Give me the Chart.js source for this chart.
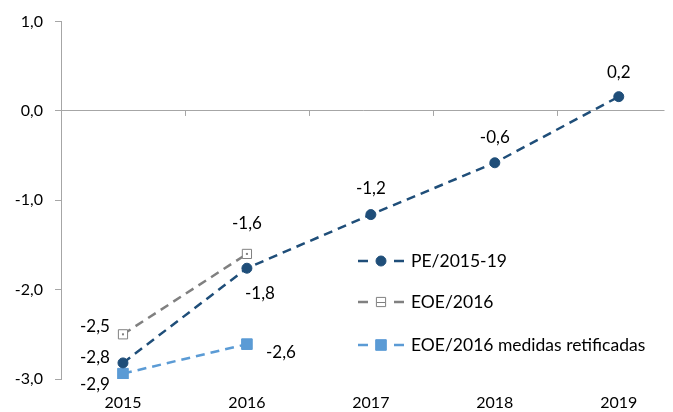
<!DOCTYPE html>
<html lang="pt">
<head>
<meta charset="UTF-8">
<script src="https://cdn.jsdelivr.net/npm/chart.js"></script>
<title>PE vs EOE</title>
<style>
  html, body { margin: 0; padding: 0; background: #fff; }
  #wrap { width: 673px; height: 412px; }
</style>
</head>
<body>
<div id="wrap"><canvas id="myChart" width="673" height="412"></canvas></div>
<script>
  const years = [2015, 2016, 2017, 2018, 2019];
  const pe = [-2.82, -1.76, -1.16, -0.58, 0.16];
  const eoe = [-2.5, -1.6];
  const eoeRet = [-2.94, -2.61];
  const peLabels = ['-2,8', '-1,8', '-1,2', '-0,6', '0,2'];
  const eoeLabels = ['-2,5', '-1,6'];
  const eoeRetLabels = ['-2,9', '-2,6'];
  const yTicks = [1, 0, -1, -2, -3];

  const FONT = 'Lato, "Open Sans", sans-serif';
  const toPts = (vals) => vals.map((v, i) => ({ x: years[i], y: v }));

  // label offsets (px) relative to each point
  const labelOffsets = [
    [[-28, -5], [13, 25], [0, -26], [0, -25], [0, -24]],
    [[-28, -8], [0, -30]],
    [[-28, 11], [34, 8]]
  ];
  const labelTexts = [peLabels, eoeLabels, eoeRetLabels];

  const dataLabels = {
    id: 'dataLabels',
    afterDatasetsDraw(chart) {
      const c = chart.ctx;
      c.save();
      // little dot inside the open squares
      const m = chart.getDatasetMeta(1);
      c.fillStyle = '#808080';
      m.data.forEach(pt => { c.fillRect(pt.x - 1, pt.y - 1, 2, 2); });

      c.font = '17px ' + FONT;
      c.fillStyle = '#000';
      c.textAlign = 'center';
      c.textBaseline = 'middle';
      chart.data.datasets.forEach((ds, di) => {
        chart.getDatasetMeta(di).data.forEach((pt, i) => {
          const off = labelOffsets[di][i];
          c.fillText(labelTexts[di][i], pt.x + off[0], pt.y + off[1]);
        });
      });
      c.restore();
    }
  };

  // small tick marks hanging below the zero line, between categories
  const zeroTicks = {
    id: 'zeroTicks',
    beforeDatasetsDraw(chart) {
      const xs = chart.scales.x, ys = chart.scales.y;
      const y0 = ys.getPixelForValue(0);
      const c = chart.ctx;
      c.save();
      c.strokeStyle = '#a6a6a6';
      c.lineWidth = 1;
      for (let k = 1; k <= years.length; k++) {
        const x = Math.round(xs.getPixelForValue(2014.5 + k)) + 0.5;
        if (x > chart.chartArea.right) break;
        c.beginPath();
        c.moveTo(x, y0);
        c.lineTo(x, y0 + 5);
        c.stroke();
      }
      c.restore();
    }
  };

  const legendRows = [261, 302, 345];
  const insideLegend = {
    id: 'insideLegend',
    afterDraw(chart) {
      const c = chart.ctx;
      c.save();
      chart.data.datasets.forEach((ds, i) => {
        const y = legendRows[i];
        c.strokeStyle = ds.borderColor;
        c.lineWidth = 2.5;
        c.beginPath();
        c.moveTo(358, y); c.lineTo(368, y);
        c.moveTo(394, y); c.lineTo(404, y);
        c.stroke();
        c.fillStyle = ds.pointBackgroundColor;
        c.strokeStyle = ds.pointBorderColor;
        c.lineWidth = ds.pointBorderWidth;
        Chart.helpers.drawPoint(c, {
          pointStyle: ds.pointStyle,
          radius: ds.pointRadius,
          borderWidth: ds.pointBorderWidth,
          rotation: 0
        }, 381, y);
        if (i === 1) {
          c.strokeStyle = ds.borderColor;
          c.beginPath();
          c.moveTo(377, y + 0.5); c.lineTo(385, y + 0.5);
          c.stroke();
        }
        c.fillStyle = '#000';
        c.font = '17.5px ' + FONT;
        c.textBaseline = 'middle';
        c.textAlign = 'left';
        c.fillText(ds.label, 411, y);
      });
      c.restore();
    }
  };

  new Chart(document.getElementById('myChart'), {
    type: 'line',
    data: {
      datasets: [{
        label: 'PE/2015-19',
        data: toPts(pe),
        borderColor: '#1f4e79',
        borderWidth: 2.5,
        borderDash: [9, 6],
        pointStyle: 'circle',
        pointRadius: 5,
        pointBorderWidth: 1,
        pointBackgroundColor: '#1f4e79',
        pointBorderColor: '#1f4e79'
      }, {
        label: 'EOE/2016',
        data: toPts(eoe),
        borderColor: '#808080',
        borderWidth: 2.5,
        borderDash: [9, 6],
        pointStyle: 'rect',
        pointRadius: 6.5,
        pointBorderWidth: 1,
        pointBackgroundColor: '#ffffff',
        pointBorderColor: '#808080'
      }, {
        label: 'EOE/2016 medidas retificadas',
        data: toPts(eoeRet),
        borderColor: '#5b9bd5',
        borderWidth: 2.5,
        borderDash: [9, 6],
        pointStyle: 'rect',
        pointRadius: 7.5,
        pointBorderWidth: 1,
        pointBackgroundColor: '#5b9bd5',
        pointBorderColor: '#5b9bd5'
      }]
    },
    options: {
      responsive: false,
      animation: false,
      layout: { padding: { top: 18.9, right: 0, left: 0, bottom: 0 } },
      plugins: {
        legend: { display: false },
        tooltip: { enabled: false }
      },
      scales: {
        x: {
          type: 'linear',
          min: 2014.5,
          max: 2019.369,
          afterBuildTicks: (s) => { s.ticks = years.map(v => ({ value: v })); },
          afterFit: (s) => { s.height = 33; },
          grid: { display: false },
          border: { display: false },
          ticks: {
            color: '#000',
            font: { family: FONT, size: 16 },
            padding: 6,
            callback: (v) => String(v)
          }
        },
        y: {
          min: -3,
          max: 1,
          afterBuildTicks: (s) => { s.ticks = yTicks.map(v => ({ value: v })); },
          afterFit: (s) => { s.width = 61; },
          grid: {
            color: (ctx) => ctx.tick && ctx.tick.value === 0 ? '#a6a6a6' : 'rgba(0,0,0,0)',
            tickColor: '#a6a6a6',
            tickLength: 6,
            drawTicks: true
          },
          border: { display: true, color: '#a6a6a6' },
          ticks: {
            color: '#000',
            font: { family: FONT, size: 16 },
            padding: 12,
            callback: (v) => v.toFixed(1).replace('.', ',')
          }
        }
      }
    },
    plugins: [zeroTicks, dataLabels, insideLegend]
  });
</script>
</body>
</html>
